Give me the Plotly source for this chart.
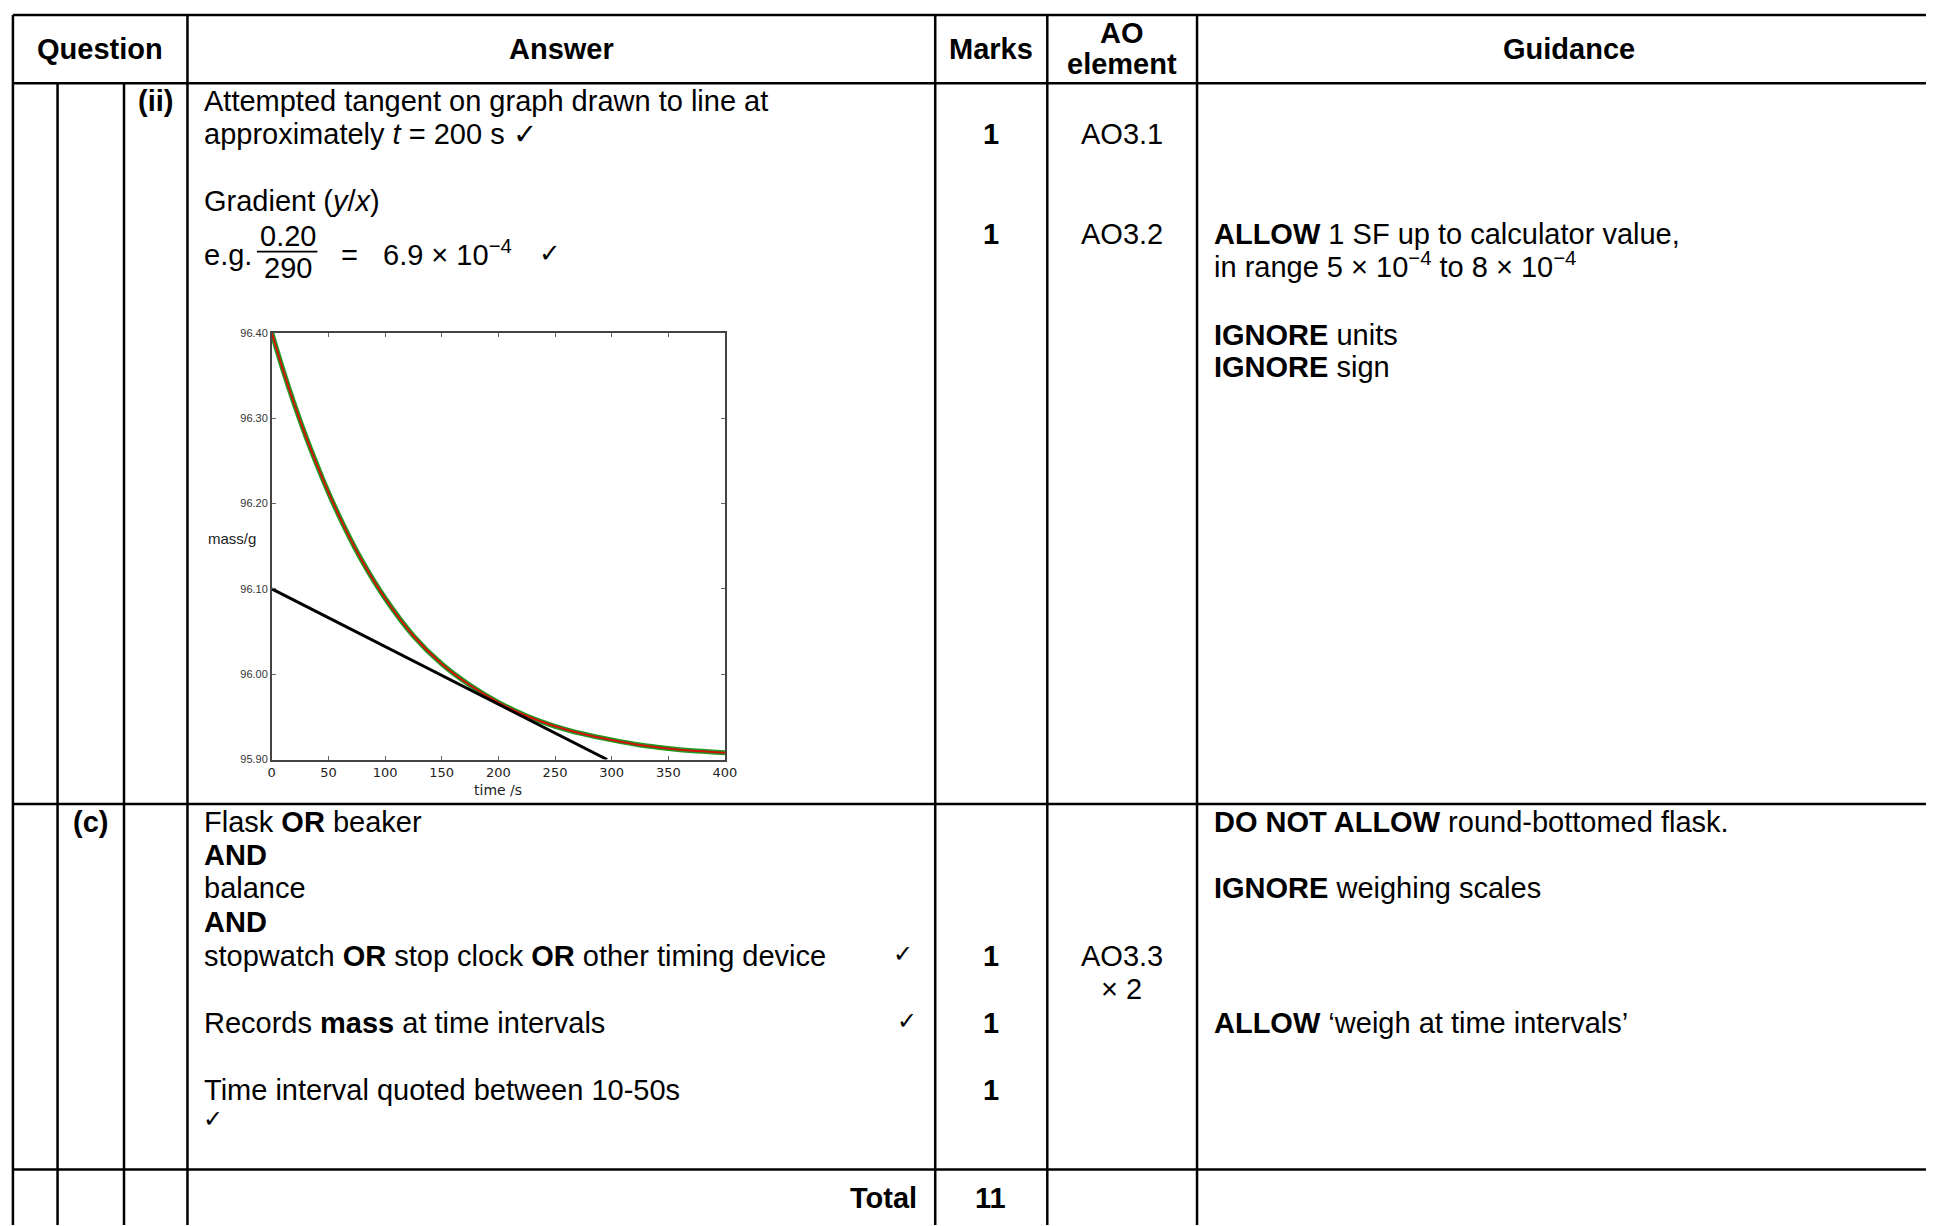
import plotly.graph_objects as go

W, H = 1933, 1226

# ---------------- data ----------------
time_s = [0, 10, 20, 30, 40, 50, 65, 80, 100, 125, 150, 175, 200, 225, 250, 275, 300, 325, 350, 375, 400]
mass_g = [96.400, 96.356, 96.316, 96.279, 96.245, 96.213, 96.170, 96.132, 96.089, 96.045, 96.012,
          95.987, 95.967, 95.951, 95.939, 95.930, 95.923, 95.917, 95.913, 95.910, 95.908]
tangent_t = [0, 296]
tangent_m = [96.10, 95.90]
x_ticks = [0, 50, 100, 150, 200, 250, 300, 350, 400]
y_ticks = [95.90, 96.00, 96.10, 96.20, 96.30, 96.40]
y_tick_labels = ["95.90", "96.00", "96.10", "96.20", "96.30", "96.40"]

headers = ["Question", "Answer", "Marks", "AO", "element", "Guidance"]
marks_ii = ["1", "1"]
ao_ii = ["AO3.1", "AO3.2"]
marks_c = ["1", "1", "1"]
ao_c = ["AO3.3", "\u00d7 2"]
total_marks = "11"

FONT = "Liberation Sans, Arial, sans-serif"
FS = 29


def px(x):
    return x / W


def py(y):
    return 1 - y / H


annotations = []


def ann(text, x, y, anchor="left", size=FS, family=FONT, color="black"):
    annotations.append(dict(
        text=text, x=px(x), y=py(y), xref="paper", yref="paper",
        xanchor=anchor, yanchor="middle", showarrow=False,
        font=dict(family=family, size=size, color=color)))


shapes = []


def hline(y, x0, x1, w=2.5):
    shapes.append(dict(type="line", xref="paper", yref="paper",
                       x0=px(x0), x1=px(x1), y0=py(y), y1=py(y),
                       line=dict(color="black", width=w)))


def vline(x, y0, y1, w=2.5):
    shapes.append(dict(type="line", xref="paper", yref="paper",
                       x0=px(x), x1=px(x), y0=py(y0), y1=py(y1),
                       line=dict(color="black", width=w)))


# ---------------- table grid ----------------
for yy in [9, 78, 806, 1175]:
    hline(yy, 9, W + 5)
for xx in [9, 185, 939, 1052, 1203]:
    vline(xx, 9, H + 5)
for xx in [54, 121]:
    vline(xx, 78, H + 5)

# ---------------- header ----------------
ann("<b>" + headers[0] + "</b>", 97, 43, "center")
ann("<b>" + headers[1] + "</b>", 562, 43, "center")
ann("<b>" + headers[2] + "</b>", 995, 43, "center")
ann("<b>" + headers[3] + "</b>", 1127, 27, "center")
ann("<b>" + headers[4] + "</b>", 1127, 59, "center")
ann("<b>" + headers[5] + "</b>", 1578, 43, "center")

# ---------------- row (ii) ----------------
ann("<b>(ii)</b>", 153, 96, "center")
ann("Attempted tangent on graph drawn to line at", 200, 96)
ann("approximately <i>t</i> = 200 s \u2713", 200, 129)
ann("Gradient (<i>y</i>/<i>x</i>)", 200, 197)
ann("e.g.", 200, 251)
ann("0.20", 286, 232, "center")
ann("290", 286, 265, "center")
shapes.append(dict(type="line", xref="paper", yref="paper",
                   x0=px(255), x1=px(316), y0=py(248), y1=py(248),
                   line=dict(color="black", width=1.8)))
ann("=", 348, 251, "center")
ann("6.9 \u00d7 10<sup>\u22124</sup>", 380, 249)
ann("\u2713", 551, 249, "center", size=26)

ann("<b>" + marks_ii[0] + "</b>", 995, 129, "center")
ann("<b>" + marks_ii[1] + "</b>", 995, 230, "center")
ann(ao_ii[0], 1127, 129, "center")
ann(ao_ii[1], 1127, 230, "center")

ann("<b>ALLOW</b> 1 SF up to calculator value,", 1218, 230)
ann("in range 5 \u00d7 10<sup>\u22124</sup> to 8 \u00d7 10<sup>\u22124</sup>", 1218, 262)
ann("<b>IGNORE</b> units", 1218, 332)
ann("<b>IGNORE</b> sign", 1218, 365)

# ---------------- row (c) ----------------
ann("<b>(c)</b>", 87, 824, "center")
ann("Flask <b>OR</b> beaker", 200, 824)
ann("<b>AND</b>", 200, 857)
ann("balance", 200, 891)
ann("<b>AND</b>", 200, 925)
ann("stopwatch <b>OR</b> stop clock <b>OR</b> other timing device", 200, 959)
ann("\u2713", 906, 957, "center", size=24)
ann("Records <b>mass</b> at time intervals", 200, 1027)
ann("\u2713", 911, 1025, "center", size=24)
ann("Time interval quoted between 10-50s", 200, 1095)
ann("\u2713", 211, 1123, "center", size=24)

for m, yy in zip(marks_c, [959, 1027, 1095]):
    ann("<b>" + m + "</b>", 995, yy, "center")
ann(ao_c[0], 1127, 959, "center")
ann(ao_c[1], 1127, 993, "center")

ann("<b>DO NOT ALLOW</b> round-bottomed flask.", 1218, 824)
ann("<b>IGNORE</b> weighing scales", 1218, 891)
ann("<b>ALLOW</b> \u2018weigh at time intervals\u2019", 1218, 1027)

# ---------------- total row ----------------
ann("<b>Total</b>", 923, 1204, "right")
ann("<b>" + total_marks + "</b>", 995, 1204, "center")

# ---------------- inset chart ----------------
X0, X1 = 270, 727
Y0, Y1 = 330, 761

ann("mass/g", 204, 538, "left", size=15, color="#222")
ann("time /s", (X0 + X1) / 2, 792, "center", size=14, family="DejaVu Sans, sans-serif", color="#222")

fig = go.Figure()
fig.add_trace(go.Scatter(x=time_s, y=mass_g, mode="lines", line=dict(color="#1f9a1f", width=5, shape="spline"),
                         hoverinfo="skip"))
fig.add_trace(go.Scatter(x=time_s, y=mass_g, mode="lines", line=dict(color="#d41010", width=2, shape="spline"),
                         hoverinfo="skip"))
fig.add_trace(go.Scatter(x=tangent_t, y=tangent_m, mode="lines", line=dict(color="black", width=3),
                         hoverinfo="skip"))

fig.update_layout(
    width=W, height=H,
    margin=dict(l=0, r=0, t=0, b=0),
    paper_bgcolor="white", plot_bgcolor="white",
    showlegend=False,
    shapes=shapes,
    annotations=annotations,
    xaxis=dict(domain=[px(X0), px(X1)], range=[0, 400], tickvals=x_ticks,
               showgrid=False, zeroline=False, showline=True, linecolor="#444", linewidth=1.5,
               mirror="ticks", ticks="inside", ticklen=4, tickcolor="#666", tickwidth=1,
               tickfont=dict(family="DejaVu Sans, sans-serif", size=13, color="#222"), fixedrange=True),
    yaxis=dict(domain=[py(Y1), py(Y0)], range=[95.90, 96.40], tickvals=y_ticks, ticktext=y_tick_labels,
               showgrid=False, zeroline=False, showline=True, linecolor="#444", linewidth=1.5,
               mirror="ticks", ticks="inside", ticklen=4, tickcolor="#666", tickwidth=1,
               tickfont=dict(family=FONT, size=11, color="#333"), fixedrange=True),
)

fig.write_html("out.html", config={"displayModeBar": False},
               post_script="document.body.style.margin='0';document.body.style.overflow='hidden';")
